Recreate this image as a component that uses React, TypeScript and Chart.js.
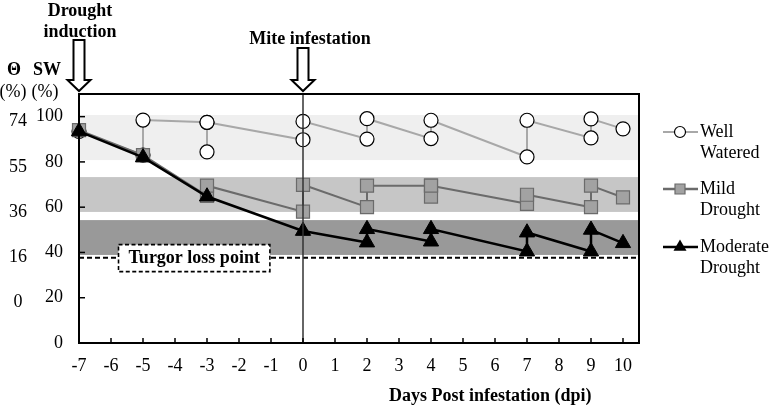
import React, { useEffect, useRef } from "react";
import { Chart, registerables } from "chart.js";
Chart.register(...registerables);

// ---------- data ----------
const X_TICKS = [-7, -6, -5, -4, -3, -2, -1, 0, 1, 2, 3, 4, 5, 6, 7, 8, 9, 10];
const SW_TICKS = [0, 20, 40, 60, 80, 100];
const THETA_LABELS = ["74", "55", "36", "16", "0"];
const THETA_AT_SW = [100, 80, 60, 40, 20];

const WW_X = [-7, -5, -5, -3, -3, -3, 0, 0, 2, 2, 4, 4, 7, 7, 9, 9, 10];
const WW_Y = [93.5, 83, 98.5, 97.5, 84.4, 97.5, 89.8, 97.9, 90.1, 99.1, 90.3, 98.4, 82.2, 98.4, 90.6, 99, 94.6];

const MILD_X = [-7, -5, -3, -3, 0, 0, 2, 2, 4, 4, 4, 7, 7, 9, 9, 10];
const MILD_Y = [94, 83, 65, 69.5, 58, 69.9, 60, 69.5, 69.5, 64.7, 69.5, 61.5, 65.5, 60, 69.5, 64.3];

const MOD_X = [-7, -5, -3, 0, 2, 2, 4, 4, 7, 7, 9, 9, 10];
const MOD_Y = [93.5, 82, 64.7, 49.5, 44.4, 50.3, 44.8, 50.3, 40.4, 48.8, 40.4, 50, 44.1];

const BAND_LOW = [80.8, 57.9, 38.9];
const BAND_HIGH = [100.7, 73.3, 54.3];
const TURGOR_LOSS = 37.7;
const TURGOR_LABEL_DAY = -3.4;
const DROUGHT_DAY = -7;
const MITE_DAY = 0;
const X_MIN = -7;
const X_MAX = 10.5;
const Y_MIN = 0;
const Y_MAX = 110;

const SERIES_LABELS = [["Well", "Watered"], ["Mild", "Drought"], ["Moderate", "Drought"]];

// ---------- styles ----------
const FONT = '"Liberation Serif", "Times New Roman", serif';
const BAND_COLORS = ["#efefef", "#c6c6c6", "#999999"];
const WW_LINE = "#a8a8a8";
const MILD_LINE = "#6b6b6b";
const MILD_FILL = "#a2a2a2";

function drawArrow(ctx: CanvasRenderingContext2D, cx: number, topY: number, tipY: number) {
  const sw = 5.5, hw = 11.5, hh = 11;
  ctx.save();
  ctx.beginPath();
  ctx.moveTo(cx - sw, topY);
  ctx.lineTo(cx + sw, topY);
  ctx.lineTo(cx + sw, tipY - hh);
  ctx.lineTo(cx + hw, tipY - hh);
  ctx.lineTo(cx, tipY);
  ctx.lineTo(cx - hw, tipY - hh);
  ctx.lineTo(cx - sw, tipY - hh);
  ctx.closePath();
  ctx.fillStyle = "#fff";
  ctx.fill();
  ctx.lineWidth = 2;
  ctx.strokeStyle = "#000";
  ctx.lineJoin = "miter";
  ctx.stroke();
  ctx.restore();
}

function drawMarker(ctx: CanvasRenderingContext2D, kind: number, x: number, y: number) {
  ctx.save();
  ctx.beginPath();
  if (kind === 0) {
    ctx.arc(x, y, 5.5, 0, Math.PI * 2);
    ctx.fillStyle = "#fff";
    ctx.fill();
    ctx.lineWidth = 1.2;
    ctx.strokeStyle = "#000";
    ctx.stroke();
  } else if (kind === 1) {
    ctx.rect(x - 5, y - 5, 10, 10);
    ctx.fillStyle = MILD_FILL;
    ctx.fill();
    ctx.lineWidth = 1.2;
    ctx.strokeStyle = MILD_LINE;
    ctx.stroke();
  } else {
    const r = 7.5;
    ctx.moveTo(x, y - r);
    ctx.lineTo(x + r * 0.866, y + r * 0.5);
    ctx.lineTo(x - r * 0.866, y + r * 0.5);
    ctx.closePath();
    ctx.fillStyle = "#000";
    ctx.fill();
  }
  ctx.restore();
}

const decor = {
  id: "decor",
  beforeDatasetsDraw(chart: any) {
    const { ctx, chartArea: a, scales } = chart;
    const x = scales.x, y = scales.y;
    ctx.save();
    // bands
    BAND_LOW.forEach((lo, i) => {
      const top = y.getPixelForValue(BAND_HIGH[i]);
      const bot = y.getPixelForValue(lo);
      ctx.fillStyle = BAND_COLORS[i];
      ctx.fillRect(a.left, top, a.right - a.left, bot - top);
    });
    // turgor loss line
    const ty = y.getPixelForValue(TURGOR_LOSS);
    ctx.beginPath();
    ctx.setLineDash([5, 3]);
    ctx.lineWidth = 2;
    ctx.strokeStyle = "#000";
    ctx.moveTo(a.left, ty);
    ctx.lineTo(a.right, ty);
    ctx.stroke();
    // label box
    ctx.font = `bold 18px ${FONT}`;
    const text = "Turgor loss point";
    const tw = ctx.measureText(text).width;
    const cx = x.getPixelForValue(TURGOR_LABEL_DAY);
    const bx = cx - tw / 2 - 10, bw = tw + 20, by = ty - 13, bh = 27;
    ctx.fillStyle = "#fff";
    ctx.fillRect(bx, by, bw, bh);
    ctx.lineWidth = 1.6;
    ctx.setLineDash([4, 2.5]);
    ctx.strokeRect(bx, by, bw, bh);
    ctx.setLineDash([]);
    ctx.fillStyle = "#000";
    ctx.textAlign = "center";
    ctx.textBaseline = "middle";
    ctx.fillText(text, cx, ty + 1);
    ctx.restore();
  },
  afterDatasetsDraw(chart: any) {
    const { ctx, chartArea: a, scales } = chart;
    const x = scales.x, y = scales.y;
    ctx.save();
    // mite infestation vertical line
    const mx = x.getPixelForValue(MITE_DAY);
    ctx.beginPath();
    ctx.lineWidth = 1.5;
    ctx.strokeStyle = "#333333";
    ctx.moveTo(mx, a.top);
    ctx.lineTo(mx, a.bottom);
    ctx.stroke();
    // inner tick marks
    ctx.strokeStyle = "#000";
    ctx.lineWidth = 1.5;
    SW_TICKS.forEach((v) => {
      const py = y.getPixelForValue(v);
      ctx.beginPath();
      ctx.moveTo(a.left, py);
      ctx.lineTo(a.left + 6, py);
      ctx.stroke();
    });
    X_TICKS.forEach((v) => {
      const px = x.getPixelForValue(v);
      ctx.beginPath();
      ctx.moveTo(px, a.bottom);
      ctx.lineTo(px, a.bottom - 5);
      ctx.stroke();
    });
    // border
    ctx.lineWidth = 2;
    ctx.strokeRect(a.left, a.top, a.right - a.left, a.bottom - a.top);
    ctx.restore();
  },
  afterDraw(chart: any) {
    const { ctx, chartArea: a, scales } = chart;
    const x = scales.x, y = scales.y;
    ctx.save();
    // arrows
    drawArrow(ctx, x.getPixelForValue(DROUGHT_DAY), 40, a.top - 3);
    drawArrow(ctx, x.getPixelForValue(MITE_DAY), 48, a.top - 3);
    // annotation texts
    ctx.fillStyle = "#000";
    ctx.textAlign = "center";
    ctx.textBaseline = "alphabetic";
    ctx.font = `bold 18px ${FONT}`;
    const dx = x.getPixelForValue(DROUGHT_DAY) + 1;
    ctx.fillText("Drought", dx, 16);
    ctx.fillText("induction", dx, 37);
    ctx.fillText("Mite infestation", x.getPixelForValue(MITE_DAY) + 7, 44);
    ctx.fillText("Days Post infestation (dpi)", x.getPixelForValue(5.85), 401);
    // y headers
    ctx.fillText("Θ", 14, 75);
    ctx.fillText("SW", 47, 75);
    ctx.font = `18px ${FONT}`;
    ctx.fillText("(%)", 13, 97);
    ctx.fillText("(%)", 45, 97);
    // theta labels
    ctx.textBaseline = "middle";
    THETA_LABELS.forEach((t, i) => {
      ctx.fillText(t, 18, y.getPixelForValue(THETA_AT_SW[i]) + 5);
    });
    // legend
    const lineColors = [WW_LINE, MILD_LINE, "#000"];
    const lineWidths = [2, 2.5, 2.5];
    const legTop = [132, 189, 247];
    ctx.textAlign = "left";
    SERIES_LABELS.forEach((lines, i) => {
      const ly = legTop[i];
      ctx.beginPath();
      ctx.strokeStyle = lineColors[i];
      ctx.lineWidth = lineWidths[i];
      ctx.moveTo(a.right + 24, ly);
      ctx.lineTo(a.right + 59, ly);
      ctx.stroke();
      drawMarker(ctx, i, a.right + 41, ly);
      ctx.fillStyle = "#000";
      ctx.font = `18px ${FONT}`;
      lines.forEach((t, j) => ctx.fillText(t, a.right + 61, ly + j * 21));
    });
    ctx.restore();
  },
};

export default function App() {
  const ref = useRef<HTMLCanvasElement | null>(null);
  useEffect(() => {
    document.body.style.margin = "0";
    const toPts = (xs: number[], ys: number[]) => xs.map((v, i) => ({ x: v, y: ys[i] }));
    const chart = new Chart(ref.current as HTMLCanvasElement, {
      type: "line",
      data: {
        datasets: [
          {
            label: SERIES_LABELS[0].join(" "),
            data: toPts(WW_X, WW_Y),
            borderColor: WW_LINE,
            borderWidth: 2,
            pointStyle: "circle",
            pointRadius: 7,
            pointBackgroundColor: "#fff",
            pointBorderColor: "#000",
            pointBorderWidth: 1.2,
            tension: 0,
            clip: false,
            order: 3,
          },
          {
            label: SERIES_LABELS[1].join(" "),
            data: toPts(MILD_X, MILD_Y),
            borderColor: MILD_LINE,
            borderWidth: 2,
            pointStyle: "rect",
            pointRadius: 9.2,
            pointBackgroundColor: MILD_FILL,
            pointBorderColor: MILD_LINE,
            pointBorderWidth: 1.2,
            tension: 0,
            clip: false,
            order: 2,
          },
          {
            label: SERIES_LABELS[2].join(" "),
            data: toPts(MOD_X, MOD_Y),
            borderColor: "#000",
            borderWidth: 2.5,
            pointStyle: "triangle",
            pointRadius: 8.8,
            pointBackgroundColor: "#000",
            pointBorderColor: "#000",
            pointBorderWidth: 1,
            tension: 0,
            clip: false,
            order: 1,
          },
        ] as any,
      },
      options: {
        responsive: false,
        animation: false,
        events: [],
        layout: { padding: { left: 0, right: 133, top: 94, bottom: 0 } },
        plugins: { legend: { display: false }, tooltip: { enabled: false } },
        scales: {
          x: {
            type: "linear",
            min: X_MIN,
            max: X_MAX,
            grid: { display: false, drawTicks: false },
            border: { display: false },
            afterBuildTicks: (s: any) => {
              s.ticks = X_TICKS.map((v) => ({ value: v }));
            },
            afterFit: (s: any) => {
              s.height = 67;
            },
            ticks: {
              autoSkip: false,
              maxRotation: 0,
              padding: 12,
              color: "#000",
              font: { family: FONT, size: 18 },
              callback: (v: any) => String(v),
            },
          },
          y: {
            type: "linear",
            min: Y_MIN,
            max: Y_MAX,
            grid: { display: false, drawTicks: false },
            border: { display: false },
            afterBuildTicks: (s: any) => {
              s.ticks = SW_TICKS.map((v) => ({ value: v }));
            },
            afterFit: (s: any) => {
              s.width = 79;
            },
            ticks: {
              padding: 16,
              color: "#000",
              font: { family: FONT, size: 18 },
              callback: (v: any) => String(v),
            },
          },
        },
      } as any,
      plugins: [decor],
    });
    return () => chart.destroy();
  }, []);
  return (
    <div style={{ position: "fixed", left: 0, top: 0, width: 772, height: 410, background: "#fff" }}>
      <canvas ref={ref} width={772} height={410} />
    </div>
  );
}
